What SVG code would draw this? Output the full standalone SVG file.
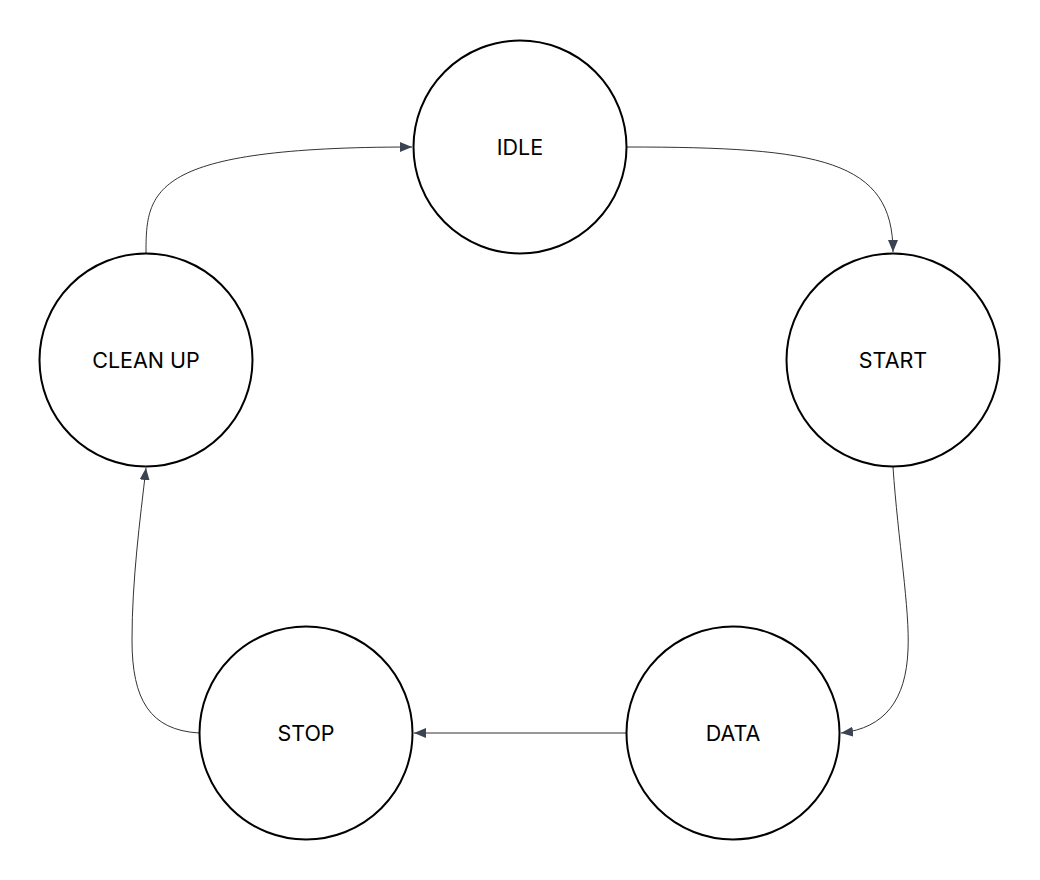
<svg xmlns="http://www.w3.org/2000/svg" width="1040" height="880" viewBox="0 0 1040 880">
<style>
.node circle{fill:#fff;stroke:#000;stroke-width:2}
.node text{font-family:Inter,"Liberation Sans",sans-serif;font-size:21.5px;fill:#000;text-anchor:middle;dominant-baseline:central}
.edge{fill:none;stroke:#333;stroke-width:1;marker-end:url(#arr)}
</style>
<defs>
<marker id="arr" viewBox="0 0 12 10" refX="12" refY="5" markerWidth="12" markerHeight="10" markerUnits="userSpaceOnUse" orient="auto">
<path d="M0,0 L12,5 L0,10 Z" fill="#3c4350"/>
</marker>
</defs>
<rect width="1040" height="880" fill="#fff"/>
<g id="connectors">
<path class="edge" d="M146,253 C146,190 150,147 412,147"/>
<path class="edge" d="M627,147 C820,147 893,160 893,252"/>
<path class="edge" d="M893,467 C898,540 910,610 908,650 C906,700 885,728 841,733"/>
<path class="edge" d="M626,733 L414,733"/>
<path class="edge" d="M199,733 C150,730 132,700 132,640 C132,580 140,520 146,468"/>
</g>
<g id="node-idle" class="node"><circle cx="520" cy="147" r="106.5"/><text x="520" y="147">IDLE</text></g>
<g id="node-start" class="node"><circle cx="893" cy="360" r="106.5"/><text x="893" y="360">START</text></g>
<g id="node-data" class="node"><circle cx="733" cy="733" r="106.5"/><text x="733" y="733">DATA</text></g>
<g id="node-stop" class="node"><circle cx="306" cy="733" r="106.5"/><text x="306" y="733">STOP</text></g>
<g id="node-cleanup" class="node"><circle cx="146" cy="360" r="106.5"/><text x="146" y="360">CLEAN UP</text></g>
</svg>
